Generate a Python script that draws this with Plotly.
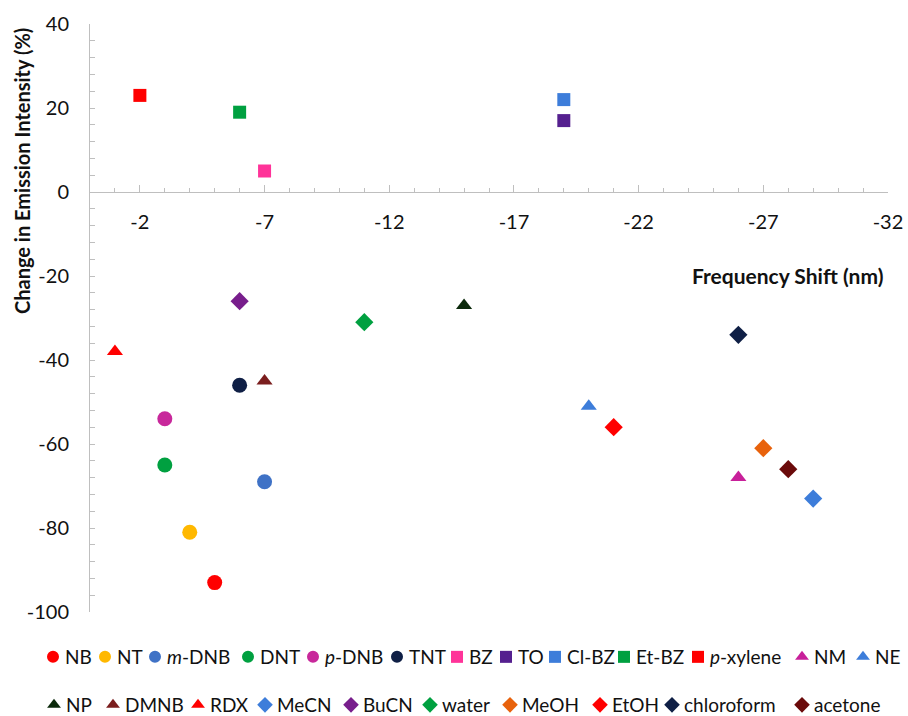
import plotly.graph_objects as go

# ---- data -------------------------------------------------------------
analytes = ["NB", "NT", "<i>m</i>-DNB", "DNT", "<i>p</i>-DNB", "TNT",
            "BZ", "TO", "Cl-BZ", "Et-BZ", "<i>p</i>-xylene", "NM", "NE",
            "NP", "DMNB", "RDX", "MeCN", "BuCN", "water", "MeOH", "EtOH",
            "chloroform", "acetone"]
freq_shift = [-5, -4, -7, -3, -3, -6,
              -7, -19, -19, -6, -2, -26, -20,
              -15, -7, -1, -29, -6, -11, -27, -21,
              -26, -28]
intensity_change = [-93, -81, -69, -65, -54, -46,
                    5, 17, 22, 19, 23, -68, -51,
                    -27, -45, -38, -73, -26, -31, -61, -56,
                    -34, -66]

x_tick_vals = [-2, -7, -12, -17, -22, -27, -32]
y_tick_vals = [-100, -80, -60, -40, -20, 0, 20, 40]
x_range = [0, -32]
y_range = [-100, 40]

# tick labels use a plain hyphen for the minus sign
x_tick_text = [str(v) for v in x_tick_vals]
y_tick_text = [str(v) for v in y_tick_vals]

# ---- styling ------------------------------------------------------------
symbols = (["circle"] * 6 + ["square"] * 5 + ["triangle-up"] * 2 +
           ["triangle-up"] * 3 + ["diamond"] * 7)
colors = ["#FF0000", "#FFB800", "#3F72C6", "#00A040", "#C8289B", "#0F1F45",
          "#FF3399", "#55208F", "#3D7DDA", "#00A040", "#FF0000", "#C8209A", "#3D7DDA",
          "#0B2A0B", "#7B1E1E", "#FF0000", "#3D7DDA", "#781E8C", "#00A040",
          "#E8620C", "#FF0000", "#0F1F45", "#6A0A0A"]
sizes = {"circle": 15, "square": 13, "triangle-up": 14, "diamond": 14}

# legend keys are drawn rotated by 90 deg with a standoff, which slides the
# key towards its label; triangles therefore start as "triangle-left"
key_symbol = {"circle": "circle", "square": "square",
              "triangle-up": "triangle-left", "diamond": "diamond"}
KEY_ANGLE = 90
KEY_STANDOFF = 8

# legend layout: two rows, one small legend per entry so that each key
# sits at its own horizontal pixel position (key centre, px)
legend_rows_y = [655, 703]
legend_key_x = [[53, 105, 155, 248, 313, 397, 457, 506, 555, 624, 698, 802, 863],
                [54, 113, 198, 265, 351, 430, 510, 600, 672, 802]]

W, H = 908, 716
ML, MR, MT, MB = 90, 20, 24, 104
PW, PH = W - ML - MR, H - MT - MB
KEY_TO_LEFT = 20      # default key centre offset from the legend's left edge
ITEM_HALF_H = 17      # half item height + item gap, for 19px legend text


def px_x(p):
    return (p - ML) / PW


def px_y(p):
    return (H - MB - p) / PH


ink = "#111111"
axis_grey = "#BFBFBF"
tick_font = dict(family="Lato", size=20, color=ink)
legend_font = dict(family="Lato", size=19, color=ink)

fig = go.Figure()
legend_layouts = {}
k = 0
for row, keys in enumerate(legend_key_x):
    for kx in keys:
        lid = "legend" if k == 0 else f"legend{k + 1}"
        group = f"g{k}"
        legend_layouts[lid] = dict(
            orientation="h", xanchor="left", yanchor="top",
            x=px_x(kx - KEY_TO_LEFT - KEY_STANDOFF),
            y=px_y(legend_rows_y[row] - ITEM_HALF_H),
            font=legend_font, bgcolor="rgba(0,0,0,0)", borderwidth=0,
            itemwidth=30, itemsizing="constant",
        )
        # the data point
        fig.add_trace(go.Scatter(
            x=[freq_shift[k]], y=[intensity_change[k]],
            mode="markers", name=analytes[k], legendgroup=group,
            showlegend=False,
            marker=dict(symbol=symbols[k], size=sizes[symbols[k]],
                        color=colors[k], line=dict(width=0)),
        ))
        # its legend key
        fig.add_trace(go.Scatter(
            x=[None], y=[None], mode="markers", name=analytes[k],
            legendgroup=group, legend=lid, hoverinfo="skip",
            marker=dict(symbol=key_symbol[symbols[k]], size=12,
                        angle=KEY_ANGLE, standoff=KEY_STANDOFF,
                        color=colors[k], line=dict(width=0)),
        ))
        k += 1

fig.update_layout(
    width=W, height=H,
    margin=dict(l=ML, r=MR, t=MT, b=MB, pad=0, autoexpand=False),
    paper_bgcolor="white", plot_bgcolor="white",
    showlegend=True,
    xaxis=dict(
        range=x_range, anchor="free",
        position=(0 - y_range[0]) / (y_range[1] - y_range[0]),
        showline=True, linecolor=axis_grey, linewidth=1,
        showgrid=False, zeroline=False,
        tickmode="array", tickvals=x_tick_vals, ticktext=x_tick_text,
        ticks="inside", ticklen=7, tickcolor=axis_grey, tickwidth=1,
        minor=dict(dtick=1, tick0=0, ticks="inside", ticklen=4,
                   tickcolor=axis_grey, showgrid=False),
        tickfont=tick_font, ticklabelstandoff=12,
    ),
    yaxis=dict(
        range=y_range,
        showline=True, linecolor=axis_grey, linewidth=1,
        showgrid=False, zeroline=False,
        tickmode="array", tickvals=y_tick_vals, ticktext=y_tick_text,
        ticks="inside", ticklen=5, tickcolor=axis_grey, tickwidth=1,
        minor=dict(dtick=4, tick0=0, ticks="inside", ticklen=5,
                   tickcolor=axis_grey, showgrid=False),
        tickfont=tick_font, ticklabelstandoff=16,
    ),
    annotations=[
        dict(text="<b>Change in Emission Intensity (%)</b>",
             xref="paper", yref="paper", x=px_x(22), y=px_y(171),
             xanchor="center", yanchor="middle", textangle=-90,
             showarrow=False, font=dict(family="Lato", size=20, color=ink)),
        dict(text="<b>Frequency Shift (nm)</b>",
             xref="paper", yref="paper", x=px_x(787), y=px_y(275),
             xanchor="center", yanchor="middle",
             showarrow=False, font=dict(family="Lato", size=21, color=ink)),
    ],
)
fig.update_layout(**legend_layouts)

fig.write_html("out.html")
